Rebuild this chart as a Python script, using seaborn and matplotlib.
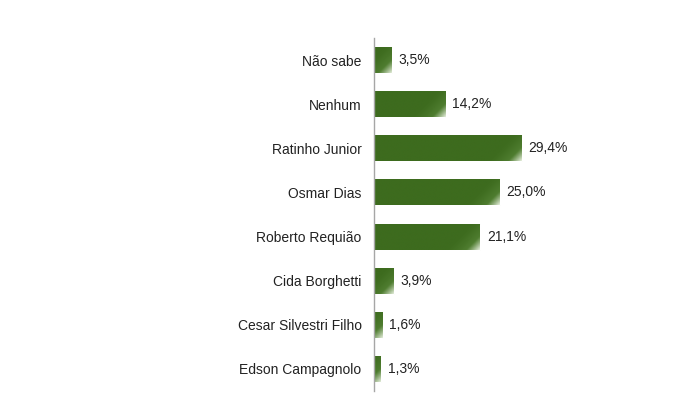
import matplotlib
matplotlib.use("Agg")
import matplotlib.pyplot as plt
import seaborn as sns
import numpy as np
import pandas as pd
from matplotlib.colors import LinearSegmentedColormap

categories = ["Não sabe", "Nenhum", "Ratinho Junior", "Osmar Dias", "Roberto Requião",
              "Cida Borghetti", "Cesar Silvestri Filho", "Edson Campagnolo"]
values = [3.5, 14.2, 29.4, 25.0, 21.1, 3.9, 1.6, 1.3]
value_labels = ["3,5%", "14,2%", "29,4%", "25,0%", "21,1%", "3,9%", "1,6%", "1,3%"]

df = pd.DataFrame({"cat": categories, "val": values})

sns.set_theme(style="white")
plt.rcParams["font.family"] = ["Liberation Sans", "DejaVu Sans"]

fig = plt.figure(figsize=(7, 4), dpi=100)
ax = fig.add_axes([374/700, 1 - 391/400, 226/700, (391 - 38)/400])

dark = "#3d6b1e"
sns.barplot(data=df, x="val", y="cat", orient="h", color=dark, width=0.59,
            saturation=1, ax=ax)

# gradient overlay: light towards bottom-right corner
cmap = LinearSegmentedColormap.from_list("g", [dark, "#4f7d30", "#e4eddb"])
for p in list(ax.patches):
    x0, y0 = p.get_x(), p.get_y()
    w, h = p.get_width(), p.get_height()
    nx, ny = 200, 40
    xx, yy = np.meshgrid(np.linspace(0, 1, nx), np.linspace(0, 1, ny))
    wpx = w * 5.03
    hpx = h * 44.2
    dx = (1 - xx) * wpx
    dy = (1 - yy) * hpx
    d = dx + dy * 1.0
    t = np.clip(1 - d / 34.0, 0, 1) ** 1.4
    im = ax.imshow(t, cmap=cmap, vmin=0, vmax=1, aspect="auto",
                   extent=[x0, x0 + w, y0, y0 + h], origin="lower",
                   interpolation="bilinear", zorder=p.get_zorder() + 0.1)
    im.set_clip_path(p)

for i, (v, lab) in enumerate(zip(values, value_labels)):
    ax.text(v + 1.4, i, lab, va="center", ha="left", fontsize=10, color="#222222")

ax.set_xlim(0, 45)
ax.set_ylim(len(categories) - 0.5, -0.5)
ax.set_xlabel("")
ax.set_ylabel("")
ax.set_xticks([])
for s in ["top", "right", "bottom"]:
    ax.spines[s].set_visible(False)
ax.spines["left"].set_color("#a6a6a6")
ax.spines["left"].set_linewidth(1)
ax.tick_params(axis="y", which="major", length=0, pad=9, labelsize=10, labelcolor="#222222")
ax.set_yticks(np.arange(-0.5, len(categories), 1.0), minor=True)
ax.tick_params(axis="y", which="minor", length=4, color="#a6a6a6", width=1, direction="out")

fig.savefig("out.png", dpi=100)
